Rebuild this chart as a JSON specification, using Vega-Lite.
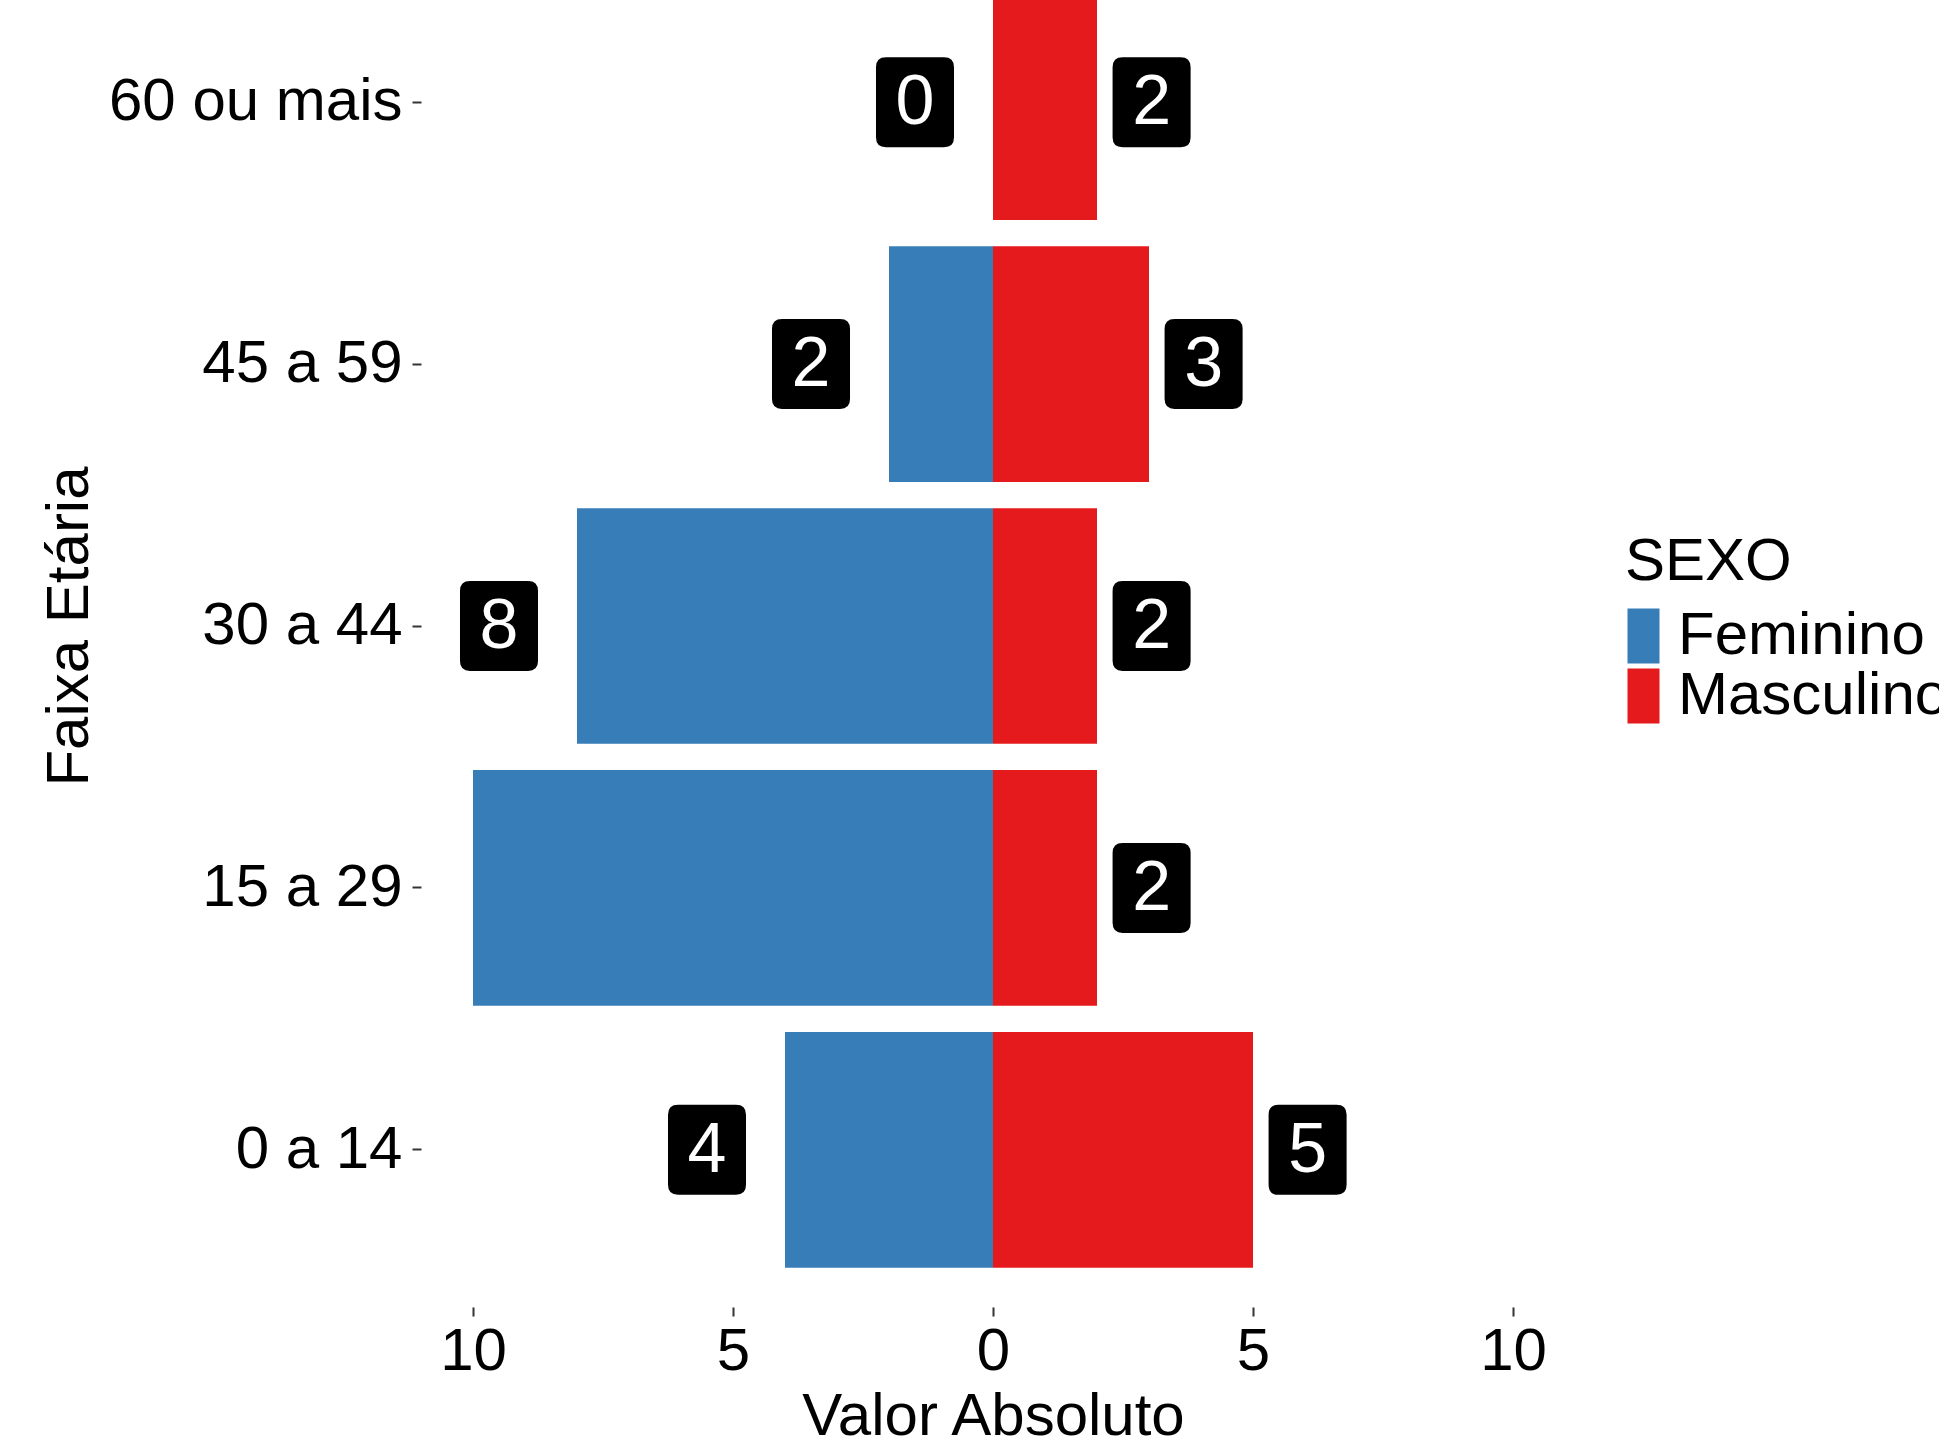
{
  "$schema": "https://vega.github.io/schema/vega-lite/v6.json",
  "autosize": "none",
  "width": 1144,
  "height": 1362,
  "padding": {"left": 421, "top": -55, "right": 374, "bottom": 144},
  "background": "white",
  "config": {
    "view": {"stroke": null},
    "font": "Liberation Sans",
    "axis": {"grid": false, "domain": false, "tickColor": "#333333", "tickWidth": 2, "tickSize": 9, "labelColor": "#000000", "titleColor": "#000000", "labelFont": "Liberation Sans", "titleFont": "Liberation Sans", "titleFontWeight": "normal", "labelLimit": 0}
  },
  "data": {
    "values": [
      {"faixa": "0 a 14", "sexo": "Feminino", "valor": 4},
      {"faixa": "15 a 29", "sexo": "Feminino", "valor": 10},
      {"faixa": "30 a 44", "sexo": "Feminino", "valor": 8},
      {"faixa": "45 a 59", "sexo": "Feminino", "valor": 2},
      {"faixa": "60 ou mais", "sexo": "Feminino", "valor": 0},
      {"faixa": "0 a 14", "sexo": "Masculino", "valor": 5},
      {"faixa": "15 a 29", "sexo": "Masculino", "valor": 2},
      {"faixa": "30 a 44", "sexo": "Masculino", "valor": 2},
      {"faixa": "45 a 59", "sexo": "Masculino", "valor": 3},
      {"faixa": "60 ou mais", "sexo": "Masculino", "valor": 2}
    ]
  },
  "transform": [
    {"calculate": "datum.sexo == 'Feminino' ? -datum.valor : datum.valor", "as": "assinado"},
    {"calculate": "datum.sexo == 'Feminino' ? -(datum.valor + 1.5) : datum.valor + 1.05", "as": "lx"}
  ],
  "encoding": {
    "y": {
      "field": "faixa", "type": "nominal",
      "sort": ["60 ou mais", "45 a 59", "30 a 44", "15 a 29", "0 a 14"],
      "scale": {"paddingInner": 0.1, "paddingOuter": 0.15},
      "axis": {"title": "Faixa Etária", "labelFontSize": 60, "titleFontSize": 60, "labelPadding": 10, "labelBaseline": "middle", "labelLimit": 0,
               "titleAngle": -90, "titleX": -334, "titleY": 681, "titleAlign": "center", "titleBaseline": "alphabetic"}
    }
  },
  "layer": [
    {
      "mark": {"type": "bar"},
      "encoding": {
        "x": {
          "field": "assinado", "type": "quantitative",
          "scale": {"domain": [-11, 11], "nice": false, "zero": false},
          "axis": {"title": "Valor Absoluto", "values": [-10, -5, 0, 5, 10], "labelExpr": "abs(datum.value)",
                   "labelFontSize": 60, "titleFontSize": 60, "labelPadding": 6, "labelFlush": false,
                   "titleX": 572, "titleY": 127, "titleAlign": "center", "titleBaseline": "alphabetic", "titleAnchor": null}
        },
        "color": {
          "field": "sexo", "type": "nominal",
          "scale": {"domain": ["Feminino", "Masculino"], "range": ["#377EB8", "#E41A1C"]},
          "legend": {
            "title": "SEXO", "orient": "none", "legendX": 1204, "legendY": 588, "padding": 0,
            "titleFontSize": 60, "titleFont": "Liberation Sans", "titleFontWeight": "normal", "titleColor": "#000000", "titlePadding": 13,
            "labelFontSize": 60, "labelFont": "Liberation Sans", "labelColor": "#000000", "labelOffset": -7, "labelLimit": 0,
            "symbolType": "M -1 -1 L 0.164 -1 L 0.164 1 L -1 1 Z", "symbolSize": 3025, "symbolStrokeWidth": 0, "symbolOpacity": 1, "rowPadding": 0
          }
        }
      }
    },
    {
      "transform": [{"filter": "abs(datum.lx) <= 11"}],
      "mark": {"type": "point", "filled": true, "opacity": 1, "color": "#000000", "strokeWidth": 0,
               "shape": "M -0.645 -1 L 0.645 -1 Q 0.867 -1 0.867 -0.778 L 0.867 0.778 Q 0.867 1 0.645 1 L -0.645 1 Q -0.867 1 -0.867 0.778 L -0.867 -0.778 Q -0.867 -1 -0.645 -1 Z",
               "size": 8100},
      "encoding": {
        "x": {"field": "lx", "type": "quantitative"}
      }
    },
    {
      "transform": [{"filter": "abs(datum.lx) <= 11"}],
      "mark": {"type": "text", "color": "#FFFFFF", "fontSize": 70, "font": "Liberation Sans", "baseline": "middle", "align": "center", "dy": 1},
      "encoding": {
        "x": {"field": "lx", "type": "quantitative"},
        "text": {"field": "valor", "type": "quantitative"}
      }
    }
  ]
}
